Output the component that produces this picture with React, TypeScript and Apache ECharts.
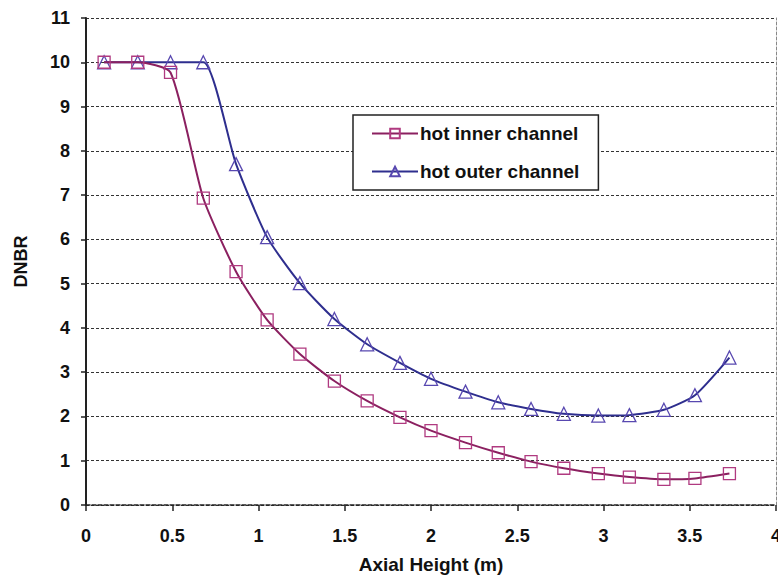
import React, { useEffect, useRef } from "react";
import * as echarts from "echarts";

const axialHeight = [0.105, 0.3, 0.49, 0.68, 0.87, 1.05, 1.24, 1.44, 1.63, 1.82, 2.0, 2.2, 2.39, 2.58, 2.77, 2.97, 3.15, 3.35, 3.53, 3.73];
const hotInner = [10.0, 10.0, 9.77, 6.93, 5.27, 4.18, 3.41, 2.8, 2.35, 1.98, 1.68, 1.41, 1.18, 0.98, 0.83, 0.71, 0.63, 0.58, 0.6, 0.71];
const hotOuter = [10.0, 10.0, 10.0, 10.0, 7.7, 6.05, 5.01, 4.2, 3.63, 3.21, 2.85, 2.56, 2.32, 2.17, 2.06, 2.02, 2.03, 2.15, 2.48, 3.33];
const seriesNames = ["hot inner channel", "hot outer channel"];

const FONT = "Liberation Sans, Arial, sans-serif";

export default function App() {
  const ref = useRef<HTMLDivElement>(null);
  useEffect(() => {
    if (!ref.current) return;
    const chart = echarts.init(ref.current, undefined, { renderer: "svg" });
    const pairs = (ys: number[]) => axialHeight.map((x, i) => [x, ys[i]]);
    chart.setOption({
      animation: false,
      backgroundColor: "#ffffff",
      grid: { left: 86, right: 2, top: 18, bottom: 71, containLabel: false, outerBoundsMode: "none" },
      legend: {
        orient: "vertical",
        left: 353,
        top: 115,
        padding: [9, 19, 9, 18],
        itemGap: 19,
        itemWidth: 46,
        itemHeight: 12,
        borderColor: "#222",
        borderWidth: 1.5,
        backgroundColor: "#fff",
        textStyle: { fontFamily: FONT, fontWeight: "bold", fontSize: 19, color: "#111", padding: [0, 0, 0, -3] },
        data: seriesNames,
      },
      xAxis: {
        type: "value",
        min: 0,
        max: 4,
        interval: 0.5,
        name: "Axial Height (m)",
        nameLocation: "middle",
        nameGap: 50,
        nameTextStyle: { fontFamily: FONT, fontWeight: "bold", fontSize: 19, color: "#111" },
        axisLine: { show: true, onZero: false, lineStyle: { color: "#222", width: 1.5, type: [4, 2] } },
        axisTick: { show: true, length: 6, lineStyle: { color: "#222", width: 1.5 } },
        axisLabel: { fontFamily: FONT, fontWeight: "bold", fontSize: 18, color: "#111", margin: 22 },
        splitLine: { show: false },
      },
      yAxis: [
        {
          type: "value",
          min: 0,
          max: 11,
          interval: 1,
          name: "DNBR",
          nameLocation: "middle",
          nameGap: 56,
          nameRotate: 90,
          nameTextStyle: { fontFamily: FONT, fontWeight: "bold", fontSize: 18, color: "#111" },
          axisLine: { show: true, lineStyle: { color: "#222", width: 2 } },
          axisTick: { show: true, length: 5, lineStyle: { color: "#222", width: 1.5 } },
          axisLabel: { fontFamily: FONT, fontWeight: "bold", fontSize: 18, color: "#111", margin: 16 },
          splitLine: { show: true, lineStyle: { color: "#333", width: 1.2, type: [3, 2] } },
        },
        {
          type: "value",
          min: 0,
          max: 11,
          interval: 1,
          position: "right",
          axisLine: { show: true, lineStyle: { color: "#888", width: 1, type: [3, 2] } },
          axisTick: { show: false },
          axisLabel: { show: false },
          splitLine: { show: false },
        },
      ],
      series: [
        {
          name: seriesNames[0],
          type: "line",
          data: pairs(hotInner),
          smooth: 0.2,
          symbol: "rect",
          symbolSize: 12,
          lineStyle: { color: "#8B2060", width: 2 },
          itemStyle: { color: "rgba(255,255,255,0)", borderColor: "#B03A80", borderWidth: 1.3 },
          z: 3,
        },
        {
          name: seriesNames[1],
          type: "line",
          data: pairs(hotOuter),
          smooth: 0.2,
          symbol: "triangle",
          symbolSize: 13,
          lineStyle: { color: "#2E2E8E", width: 2 },
          itemStyle: { color: "rgba(255,255,255,0)", borderColor: "#5848B0", borderWidth: 1.3 },
          z: 2,
        },
      ],
    });
    return () => chart.dispose();
  }, []);
  return <div ref={ref} style={{ width: 778, height: 576, position: "absolute", left: 0, top: 0 }} />;
}
